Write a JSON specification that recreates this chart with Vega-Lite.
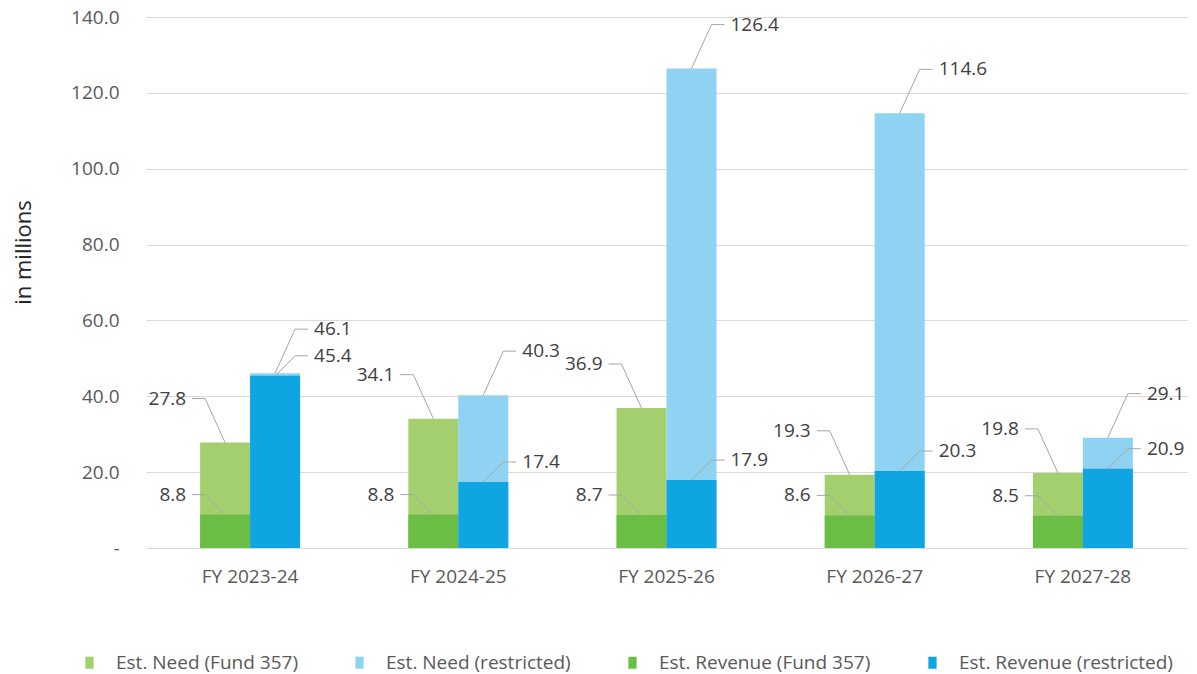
{
  "$schema": "https://vega.github.io/schema/vega-lite/v6.json",
  "width": 1041,
  "height": 531,
  "autosize": "none",
  "padding": {"left": 146, "top": 17, "right": 10, "bottom": 126},
  "background": "white",
  "config": {"view": {"stroke": null}, "font": "Open Sans"},
  "data": {
    "values": [
      {"year": "FY 2023-24", "fund": "Fund 357", "measure": "Need", "series": "Est. Need (Fund 357)", "value": 27.8},
      {"year": "FY 2023-24", "fund": "restricted", "measure": "Need", "series": "Est. Need (restricted)", "value": 46.1},
      {"year": "FY 2024-25", "fund": "Fund 357", "measure": "Need", "series": "Est. Need (Fund 357)", "value": 34.1},
      {"year": "FY 2024-25", "fund": "restricted", "measure": "Need", "series": "Est. Need (restricted)", "value": 40.3},
      {"year": "FY 2025-26", "fund": "Fund 357", "measure": "Need", "series": "Est. Need (Fund 357)", "value": 36.9},
      {"year": "FY 2025-26", "fund": "restricted", "measure": "Need", "series": "Est. Need (restricted)", "value": 126.4},
      {"year": "FY 2026-27", "fund": "Fund 357", "measure": "Need", "series": "Est. Need (Fund 357)", "value": 19.3},
      {"year": "FY 2026-27", "fund": "restricted", "measure": "Need", "series": "Est. Need (restricted)", "value": 114.6},
      {"year": "FY 2027-28", "fund": "Fund 357", "measure": "Need", "series": "Est. Need (Fund 357)", "value": 19.8},
      {"year": "FY 2027-28", "fund": "restricted", "measure": "Need", "series": "Est. Need (restricted)", "value": 29.1},
      {"year": "FY 2023-24", "fund": "Fund 357", "measure": "Revenue", "series": "Est. Revenue (Fund 357)", "value": 8.8},
      {"year": "FY 2023-24", "fund": "restricted", "measure": "Revenue", "series": "Est. Revenue (restricted)", "value": 45.4},
      {"year": "FY 2024-25", "fund": "Fund 357", "measure": "Revenue", "series": "Est. Revenue (Fund 357)", "value": 8.8},
      {"year": "FY 2024-25", "fund": "restricted", "measure": "Revenue", "series": "Est. Revenue (restricted)", "value": 17.4},
      {"year": "FY 2025-26", "fund": "Fund 357", "measure": "Revenue", "series": "Est. Revenue (Fund 357)", "value": 8.7},
      {"year": "FY 2025-26", "fund": "restricted", "measure": "Revenue", "series": "Est. Revenue (restricted)", "value": 17.9},
      {"year": "FY 2026-27", "fund": "Fund 357", "measure": "Revenue", "series": "Est. Revenue (Fund 357)", "value": 8.6},
      {"year": "FY 2026-27", "fund": "restricted", "measure": "Revenue", "series": "Est. Revenue (restricted)", "value": 20.3},
      {"year": "FY 2027-28", "fund": "Fund 357", "measure": "Revenue", "series": "Est. Revenue (Fund 357)", "value": 8.5},
      {"year": "FY 2027-28", "fund": "restricted", "measure": "Revenue", "series": "Est. Revenue (restricted)", "value": 20.9}
    ]
  },
  "encoding": {
    "x": {
      "field": "year",
      "type": "nominal",
      "sort": null,
      "scale": {"paddingInner": 0.52, "paddingOuter": 0.26},
      "axis": {"title": null, "labelAngle": 0, "domain": false, "ticks": false, "grid": false, "labelFontSize": 19, "labelColor": "#595959", "labelPadding": 19}
    },
    "xOffset": {
      "field": "fund",
      "type": "nominal",
      "scale": {"domain": ["Fund 357", "restricted"], "paddingInner": 0, "paddingOuter": 0}
    },
    "y": {
      "field": "value",
      "type": "quantitative",
      "stack": null,
      "scale": {"domain": [0, 140], "nice": false},
      "axis": {
        "title": "in millions",
        "values": [0, 20, 40, 60, 80, 100, 120, 140],
        "labelExpr": "datum.value == 0 ? '-\u00a0\u00a0' : format(datum.value, '.1f')",
        "domain": false,
        "ticks": false,
        "gridColor": "#d9d9d9",
        "labelFontSize": 19,
        "labelColor": "#595959",
        "labelPadding": 27,
        "titleFontSize": 22,
        "titleFontWeight": "normal",
        "titleColor": "#262626",
        "titleX": -111,
        "titleY": 235
      }
    }
  },
  "layer": [
    {
      "mark": {"type": "bar"},
      "encoding": {
        "color": {
          "field": "series",
          "type": "nominal",
          "scale": {
            "domain": ["Est. Need (Fund 357)", "Est. Need (restricted)", "Est. Revenue (Fund 357)", "Est. Revenue (restricted)"],
            "range": ["#A4CF6E", "#8FD2F2", "#6ABD45", "#0EA5E0"]
          },
          "legend": {
            "orient": "none",
            "legendX": -66,
            "legendY": 636,
            "direction": "horizontal",
            "columns": 4,
            "title": null,
            "symbolType": "M-0.55,-0.8 L0.55,-0.8 L0.55,0.8 L-0.55,0.8 Z",
            "symbolSize": 225,
            "symbolStrokeWidth": 0,
            "labelFontSize": 19,
            "labelColor": "#595959",
            "labelLimit": 400,
            "labelOffset": 17,
            "columnPadding": 52
          }
        }
      }
    },
    {
      "transform": [{"filter": "datum.fund == 'Fund 357' && datum.measure == 'Need'"}],
      "mark": {"type": "point", "shape": "M0,0 L-0.4,-0.88 L-0.66,-0.88", "size": 10000, "filled": false, "stroke": "#a6a6a6", "strokeWidth": 1, "opacity": 1}
    },
    {
      "transform": [{"filter": "datum.fund == 'Fund 357' && datum.measure == 'Revenue'"}],
      "mark": {"type": "point", "shape": "M0,0 L-0.4,-0.4 L-0.66,-0.4", "size": 10000, "filled": false, "stroke": "#a6a6a6", "strokeWidth": 1, "opacity": 1}
    },
    {
      "transform": [{"filter": "datum.fund == 'restricted' && datum.measure == 'Need'"}],
      "mark": {"type": "point", "shape": "M0,0 L0.4,-0.88 L0.66,-0.88", "size": 10000, "filled": false, "stroke": "#a6a6a6", "strokeWidth": 1, "opacity": 1}
    },
    {
      "transform": [{"filter": "datum.fund == 'restricted' && datum.measure == 'Revenue'"}],
      "mark": {"type": "point", "shape": "M0,0 L0.4,-0.4 L0.66,-0.4", "size": 10000, "filled": false, "stroke": "#a6a6a6", "strokeWidth": 1, "opacity": 1}
    },
    {
      "transform": [{"filter": "datum.fund == 'Fund 357' && datum.measure == 'Need'"}],
      "mark": {"type": "text", "align": "right", "baseline": "middle", "dx": -39, "dy": -44, "fontSize": 19, "color": "#404040"},
      "encoding": {"text": {"field": "value", "type": "quantitative", "format": ".1f"}}
    },
    {
      "transform": [{"filter": "datum.fund == 'Fund 357' && datum.measure == 'Revenue'"}],
      "mark": {"type": "text", "align": "right", "baseline": "middle", "dx": -39, "dy": -20, "fontSize": 19, "color": "#404040"},
      "encoding": {"text": {"field": "value", "type": "quantitative", "format": ".1f"}}
    },
    {
      "transform": [{"filter": "datum.fund == 'restricted' && datum.measure == 'Need'"}],
      "mark": {"type": "text", "align": "left", "baseline": "middle", "dx": 39, "dy": -44, "fontSize": 19, "color": "#404040"},
      "encoding": {"text": {"field": "value", "type": "quantitative", "format": ".1f"}}
    },
    {
      "transform": [{"filter": "datum.fund == 'restricted' && datum.measure == 'Revenue'"}],
      "mark": {"type": "text", "align": "left", "baseline": "middle", "dx": 39, "dy": -20, "fontSize": 19, "color": "#404040"},
      "encoding": {"text": {"field": "value", "type": "quantitative", "format": ".1f"}}
    }
  ]
}
